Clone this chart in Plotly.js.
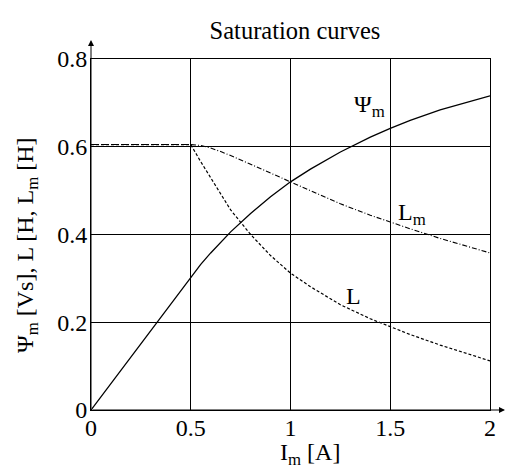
<!DOCTYPE html>
<html>
<head>
<meta charset="utf-8">
<script src="https://cdn.plot.ly/plotly-3.0.1.min.js"></script>
<style>
  html, body { margin: 0; padding: 0; background: #fff; }
  #chart { width: 508px; height: 469px; }
</style>
</head>
<body>
<div id="chart"></div>
<script>
// Magnetising current I_m [A]
const current = [0, 0.5, 0.55, 0.6, 0.65, 0.7, 0.8, 0.9, 1.0, 1.1, 1.25, 1.4, 1.5, 1.6, 1.75, 1.9, 2.0];

// Magnetising flux linkage Psi_m [Vs]
const fluxPsi = [0, 0.3025, 0.332, 0.358, 0.383, 0.406, 0.448, 0.486, 0.520, 0.549, 0.588, 0.622, 0.642, 0.660, 0.684, 0.704, 0.716];

// Dynamic inductance L [H]
const inductanceL = [0.605, 0.605, 0.566, 0.530, 0.491, 0.456, 0.400, 0.352, 0.312, 0.281, 0.240, 0.208, 0.190, 0.172, 0.148, 0.126, 0.112];

// Static magnetising inductance L_m [H]
const inductanceLm = [0.605, 0.605, 0.603, 0.597, 0.589, 0.580, 0.560, 0.540, 0.520, 0.499, 0.470, 0.444, 0.428, 0.413, 0.391, 0.371, 0.358];

const xTicks = [0, 0.5, 1, 1.5, 2];
const xTickText = ['0', '0.5', '1', '1.5', '2'];
const yTicks = [0, 0.2, 0.4, 0.6, 0.8];
const yTickText = ['0', '0.2', '0.4', '0.6', '0.8'];

const serif = '"Liberation Serif", "Times New Roman", serif';

const traces = [
  {
    x: current, y: fluxPsi, type: 'scatter', mode: 'lines',
    line: { color: '#000', width: 1.3, shape: 'linear' },
    name: 'Psi_m', hoverinfo: 'x+y'
  },
  {
    x: current, y: inductanceL, type: 'scatter', mode: 'lines',
    line: { color: '#000', width: 1.2, dash: '3px,2px', shape: 'linear' },
    name: 'L', hoverinfo: 'x+y'
  },
  {
    x: current, y: inductanceLm, type: 'scatter', mode: 'lines',
    line: { color: '#000', width: 1.1, dash: '5px,2px,1px,2px', shape: 'linear' },
    name: 'L_m', hoverinfo: 'x+y'
  }
];

const W = 508, H = 469;
const L = 91, R = 18, T = 59, B = 59;
const pw = W - L - R, ph = H - T - B;
// pixel -> paper helpers for the decorations around the frame
const px = v => (v - L) / pw;
const py = v => (H - B - v) / ph;

const layout = {
  width: W, height: H,
  margin: { l: L, r: R, t: T, b: B, pad: 0 },
  paper_bgcolor: '#fff', plot_bgcolor: '#fff',
  showlegend: false,
  font: { family: serif, size: 24, color: '#000' },
  title: {
    text: 'Saturation curves',
    font: { family: serif, size: 24.5, color: '#000' },
    xref: 'container', yref: 'container',
    x: 295 / W, xanchor: 'center',
    y: 1 - 30 / H, yanchor: 'middle'
  },
  xaxis: {
    range: [0, 2], tickvals: xTicks, ticktext: xTickText,
    showgrid: true, gridcolor: '#000', gridwidth: 1,
    zeroline: false, showline: true, mirror: true, linecolor: '#000', linewidth: 1,
    ticks: '', ticklabelstandoff: -4,
    tickfont: { family: serif, size: 24, color: '#000' }
  },
  yaxis: {
    range: [0, 0.8], tickvals: yTicks, ticktext: yTickText,
    showgrid: true, gridcolor: '#000', gridwidth: 1,
    zeroline: false, showline: true, mirror: true, linecolor: '#000', linewidth: 1,
    ticks: '', ticklabelstandoff: -2,
    tickfont: { family: serif, size: 24, color: '#000' }
  },
  annotations: [
    // axis arrows
    { xref: 'paper', yref: 'paper', x: px(505), y: 0, ax: -(505 - L), ay: 0,
      showarrow: true, arrowhead: 2, arrowsize: 1.2, arrowwidth: 1, arrowcolor: '#000', text: '' },
    { xref: 'paper', yref: 'paper', x: 0, y: py(40), ax: 0, ay: (H - B - 40),
      showarrow: true, arrowhead: 2, arrowsize: 1.2, arrowwidth: 1, arrowcolor: '#000', text: '' },
    // axis titles
    { xref: 'paper', yref: 'paper', x: px(310), y: py(454), xanchor: 'center', yanchor: 'middle',
      showarrow: false, text: 'I<sub>m</sub> [A]', font: { family: serif, size: 24, color: '#000' } },
    { xref: 'paper', yref: 'paper', x: px(27), y: py(245), xanchor: 'center', yanchor: 'middle',
      textangle: -90, showarrow: false,
      text: 'Ψ<sub>m</sub> [Vs], L [H, L<sub>m</sub> [H]', font: { family: serif, size: 24, color: '#000' } },
    // curve labels
    { xref: 'x', yref: 'y', x: 1.396, y: 0.693, xanchor: 'center', yanchor: 'middle',
      showarrow: false, text: 'Ψ<sub>m</sub>', font: { family: serif, size: 24, color: '#000' } },
    { xref: 'x', yref: 'y', x: 1.61, y: 0.447, xanchor: 'center', yanchor: 'middle',
      showarrow: false, text: 'L<sub>m</sub>', font: { family: serif, size: 24, color: '#000' } },
    { xref: 'x', yref: 'y', x: 1.316, y: 0.26, xanchor: 'center', yanchor: 'middle',
      showarrow: false, text: 'L', font: { family: serif, size: 24, color: '#000' } }
  ]
};

Plotly.newPlot('chart', traces, layout, { displayModeBar: false, staticPlot: true });
</script>
</body>
</html>
